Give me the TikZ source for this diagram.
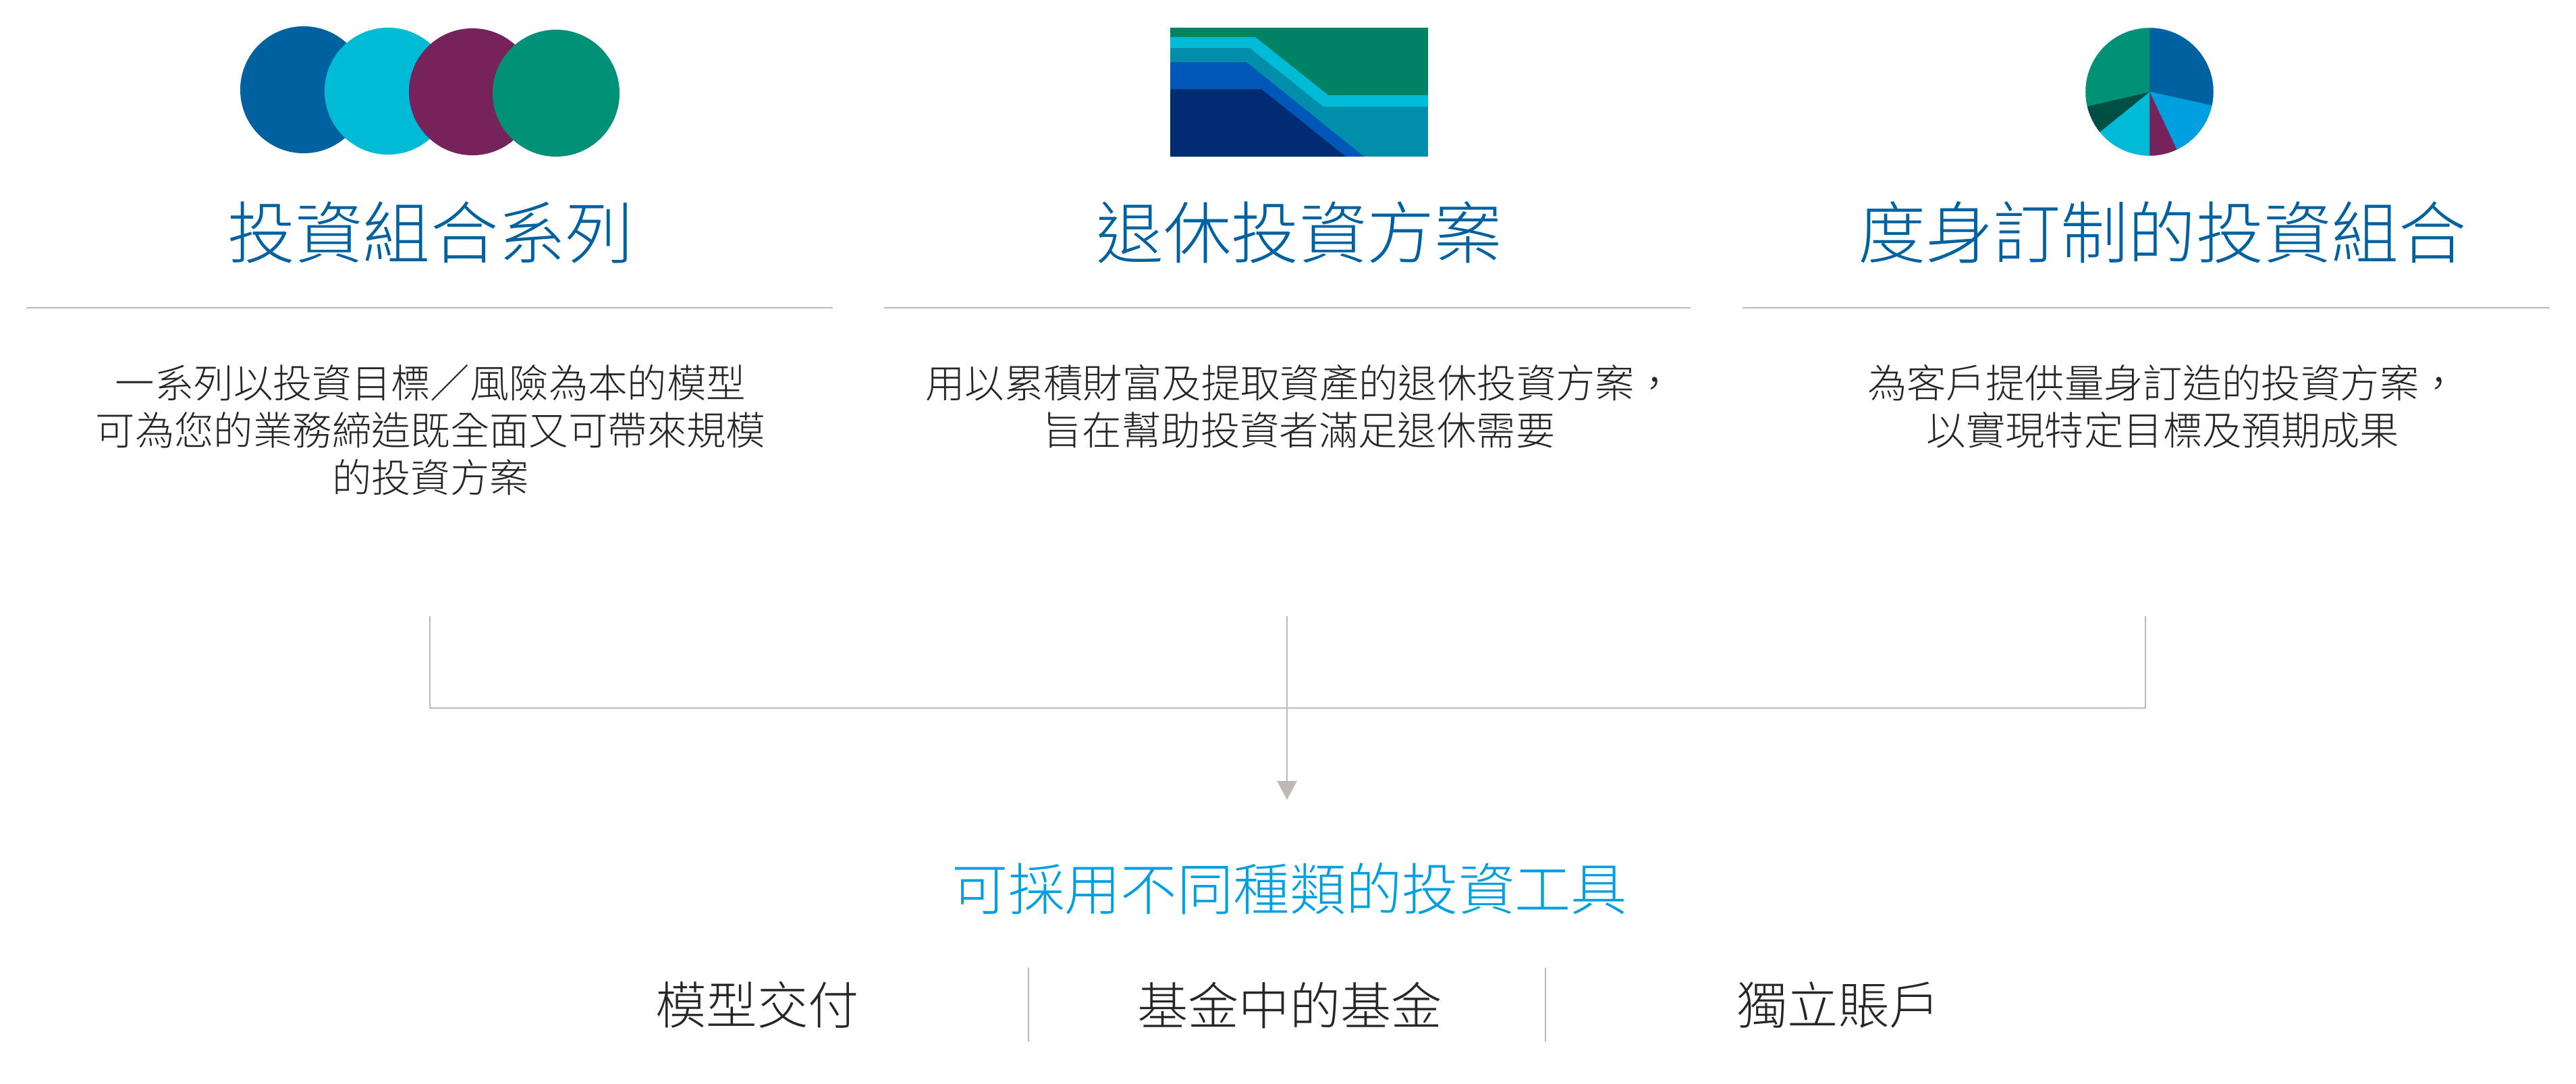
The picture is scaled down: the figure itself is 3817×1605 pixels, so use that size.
\documentclass[tikz,border=0pt]{standalone}
\usepackage{fontspec}
\usepackage{xcolor}
\usetikzlibrary{arrows.meta}
\newfontfamily\cjk[UprightFont={* Light}]{Noto Sans CJK TC}
\definecolor{navy}{HTML}{002D72}
\definecolor{royal}{HTML}{0057B8}
\definecolor{deepblue}{HTML}{0061A0}
\definecolor{skyblue}{HTML}{009FDF}
\definecolor{aqua}{HTML}{00BBD6}
\definecolor{petrol}{HTML}{008EAA}
\definecolor{plum}{HTML}{76235C}
\definecolor{jade}{HTML}{009176}
\definecolor{forest}{HTML}{008264}
\definecolor{pine}{HTML}{004F45}
\definecolor{rulegrey}{HTML}{BFB8B4}
\tikzset{
  title/.style={text=deepblue, font=\cjk\fontsize{28.5}{34}\selectfont, inner sep=0pt},
  body/.style={text=black!85, font=\cjk\fontsize{16.6}{20}\selectfont, inner sep=0pt},
  item/.style={text=black!85, font=\cjk\fontsize{21.4}{25}\selectfont, inner sep=0pt},
  disc/.style={circle, minimum size=1.88cm, inner sep=0pt},
  rulegrey line/.style={draw=rulegrey, line width=0.027cm},
}
\begin{document}
\begin{tikzpicture}[x=0.01cm, y=-0.01cm]
    \useasboundingbox (0, 0) rectangle (3817, 1605);

    \node[disc, fill=deepblue] (d1) at (450, 133) {};
    \node[disc, fill=aqua] (d2) at (575, 135) {};
    \node[disc, fill=plum] (d3) at (700, 136) {};
    \node[disc, fill=jade] (d4) at (824, 138) {};

    \fill[petrol] (1734, 41) rectangle (2116, 232);
    \fill[forest] (1734, 41) -- (2116, 41) -- (2116, 141) -- (1968, 141) -- (1860, 55) -- (1734, 55) -- cycle;
    \fill[aqua] (1734, 55) -- (1860, 55) -- (1968, 141) -- (2116, 141) -- (2116, 158) -- (1961, 158) -- (1852, 71) -- (1734, 71) -- cycle;
    \fill[royal] (1734, 92) -- (1847, 92) -- (2021, 232) -- (1734, 232) -- cycle;
    \fill[navy] (1734, 132) -- (1869, 132) -- (1994, 232) -- (1734, 232) -- cycle;

    \coordinate (p) at (3185, 136);
    \filldraw[deepblue, line width=0.1pt] (p) -- ++(90:0.945cm) arc (90:-12.5:0.945cm) -- cycle;
    \filldraw[skyblue, line width=0.1pt] (p) -- ++(-12.5:0.945cm) arc (-12.5:-64.8:0.945cm) -- cycle;
    \filldraw[plum, line width=0.1pt] (p) -- ++(-64.8:0.945cm) arc (-64.8:-90:0.945cm) -- cycle;
    \filldraw[aqua, line width=0.1pt] (p) -- ++(-90:0.945cm) arc (-90:-141.1:0.945cm) -- cycle;
    \filldraw[pine, line width=0.1pt] (p) -- ++(-141.1:0.945cm) arc (-141.1:-167:0.945cm) -- cycle;
    \filldraw[jade, line width=0.1pt] (p) -- ++(-167:0.945cm) arc (-167:-270:0.945cm) -- cycle;

    \node[title] (a) at (638, 344) {投資組合系列};
    \node[title] (b) at (1925, 344) {退休投資方案};
    \node[title] (c) at (3204, 344) {度身訂制的投資組合};

    \coordinate (al) at (39, 456);
    \coordinate (ar) at (1234, 456);
    \coordinate (bl) at (1310, 456);
    \coordinate (br) at (2505, 456);
    \coordinate (cl) at (2582, 456);
    \coordinate (cr) at (3778, 456);
    \draw [rulegrey line] (al) to (ar);
    \draw [rulegrey line] (bl) to (br);
    \draw [rulegrey line] (cl) to (cr);

    \node[body] (a1) at (638, 567) {一系列以投資目標／風險為本的模型};
    \node[body] (a2) at (638, 637) {可為您的業務締造既全面又可帶來規模};
    \node[body] (a3) at (638, 707) {的投資方案};
    \node[body] (b1) at (1926, 567) {用以累積財富及提取資產的退休投資方案，};
    \node[body] (b2) at (1925, 637) {旨在幫助投資者滿足退休需要};
    \node[body] (c1) at (3205, 567) {為客戶提供量身訂造的投資方案，};
    \node[body] (c2) at (3205, 637) {以實現特定目標及預期成果};

    \coordinate (ta) at (637, 913);
    \coordinate (tb) at (1907, 913);
    \coordinate (tc) at (3179, 913);
    \coordinate (ja) at (637, 1049);
    \coordinate (jc) at (3179, 1049);
    \coordinate (tip) at (1907, 1185);
    \draw [rulegrey line] (ta) to (ja) to (jc) to (tc);
    \draw [rulegrey line, -{Triangle[width=0.29cm, length=0.28cm, fill=rulegrey]}] (tb) to (tip);

    \node[inner sep=0pt, text=skyblue, font=\cjk\fontsize{23.7}{28}\selectfont] (d) at (1911, 1317) {可採用不同種類的投資工具};
    \node[item] (e) at (1122, 1489) {模型交付};
    \node[item] (f) at (1911, 1489) {基金中的基金};
    \node[item] (g) at (2724, 1489) {獨立賬戶};

    \coordinate (s1) at (1524, 1434);
    \coordinate (s2) at (1524, 1543);
    \coordinate (s3) at (2290, 1434);
    \coordinate (s4) at (2290, 1543);
    \draw [rulegrey line] (s1) to (s2);
    \draw [rulegrey line] (s3) to (s4);

\end{tikzpicture}
\end{document}
